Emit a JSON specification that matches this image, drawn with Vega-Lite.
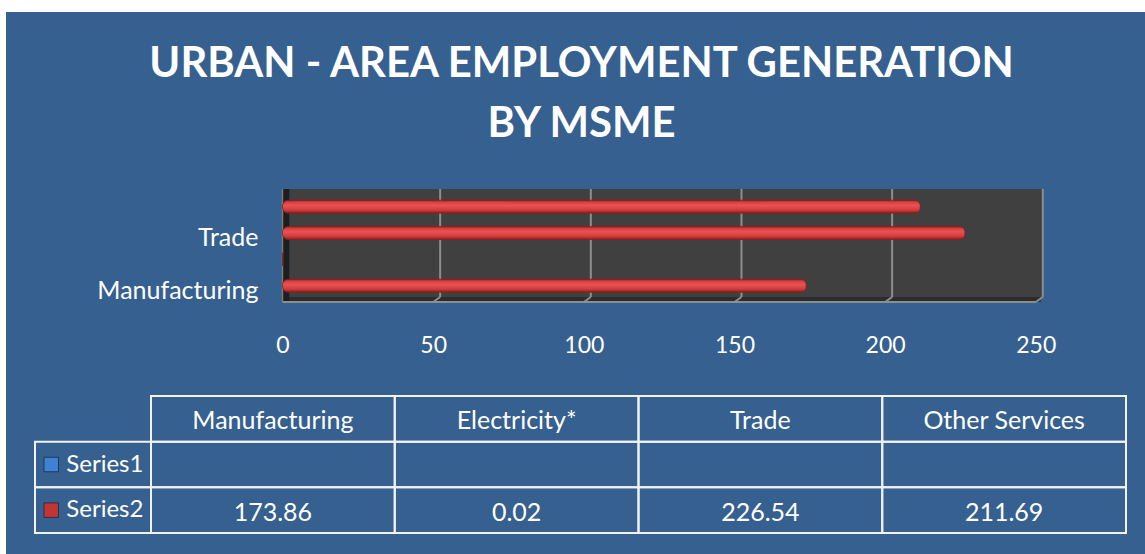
{
  "$schema": "https://vega.github.io/schema/vega-lite/v6.json",
  "width": 1139,
  "height": 542,
  "autosize": {"type": "none"},
  "padding": {"left": 6, "top": 12, "right": 0, "bottom": 0},
  "background": "#ffffff",
  "config": {"view": {"fill": "#36608f", "stroke": null}, "font": "Lato"},
  "title": {
    "text": ["URBAN - AREA EMPLOYMENT GENERATION", "BY MSME"],
    "font": "Lato",
    "fontSize": 41.8,
    "fontWeight": "bold",
    "color": "#ffffff",
    "lineHeight": 60,
    "anchor": "middle",
    "frame": "group",
    "dx": 6,
    "offset": -134
  },
  "datasets": {
    "emp": [
      {"category": "Manufacturing", "Series1": null, "Series2": 173.86},
      {"category": "Electricity*", "Series1": null, "Series2": 0.02},
      {"category": "Trade", "Series1": null, "Series2": 226.54},
      {"category": "Other Services", "Series1": null, "Series2": 211.69}
    ],
    "series": [{"series": "Series1"}, {"series": "Series2"}],
    "gridvals": [{"v": 50}, {"v": 100}, {"v": 150}, {"v": 200}],
    "one": [{}]
  },
  "resolve": {"scale": {"x": "independent", "y": "independent", "color": "independent"}},
  "layer": [
    {
      "data": {"name": "one"},
      "mark": {"type": "rect", "fill": "#2c2c2c", "x2Offset": 5},
      "encoding": {
        "x": {"datum": 0, "type": "quantitative", "scale": {"domain": [0, 250], "range": [276.5, 1029.8], "nice": false, "zero": false}, "axis": null},
        "x2": {"datum": 250},
        "y": {"datum": -0.046, "type": "quantitative", "scale": {"domain": [0, 1], "range": [285, 177], "nice": false, "zero": false}, "axis": null},
        "y2": {"datum": 0}
      }
    },
    {
      "data": {"name": "one"},
      "mark": {"type": "rect", "fill": "#404040", "xOffset": 7, "x2Offset": 7},
      "encoding": {
        "x": {"datum": 0, "type": "quantitative", "scale": {"domain": [0, 250], "range": [276.5, 1029.8], "nice": false, "zero": false}, "axis": null},
        "x2": {"datum": 250},
        "y": {"datum": 0, "type": "quantitative", "scale": {"domain": [0, 1], "range": [285, 177], "nice": false, "zero": false}, "axis": null},
        "y2": {"datum": 1}
      }
    },
    {
      "data": {"name": "one"},
      "mark": {"type": "rect", "fill": "#1e1e1e", "x2Offset": 7},
      "encoding": {
        "x": {"datum": 0, "type": "quantitative", "scale": {"domain": [0, 250], "range": [276.5, 1029.8], "nice": false, "zero": false}, "axis": null},
        "x2": {"datum": 0},
        "y": {"datum": -0.046, "type": "quantitative", "scale": {"domain": [0, 1], "range": [285, 177], "nice": false, "zero": false}, "axis": null},
        "y2": {"datum": 1}
      }
    },
    {
      "data": {"name": "gridvals"},
      "mark": {"type": "rule", "stroke": "#8e8e8e", "strokeWidth": 2, "xOffset": 7},
      "encoding": {
        "x": {"field": "v", "type": "quantitative", "scale": {"domain": [0, 250], "range": [276.5, 1029.8], "nice": false, "zero": false}, "axis": null},
        "y": {"datum": 0, "type": "quantitative", "scale": {"domain": [0, 1], "range": [285, 177], "nice": false, "zero": false}, "axis": null},
        "y2": {"datum": 1}
      }
    },
    {
      "data": {"name": "gridvals"},
      "mark": {"type": "rule", "stroke": "#8e8e8e", "strokeWidth": 2, "x2Offset": 7},
      "encoding": {
        "x": {"field": "v", "type": "quantitative", "scale": {"domain": [0, 250], "range": [276.5, 1029.8], "nice": false, "zero": false}, "axis": null},
        "x2": {"field": "v"},
        "y": {"datum": -0.046, "type": "quantitative", "scale": {"domain": [0, 1], "range": [285, 177], "nice": false, "zero": false}, "axis": null},
        "y2": {"datum": 0}
      }
    },
    {
      "data": {"name": "one"},
      "mark": {"type": "rule", "stroke": "#8e8e8e", "strokeWidth": 2},
      "encoding": {
        "x": {"datum": 0, "type": "quantitative", "scale": {"domain": [0, 250], "range": [276.5, 1029.8], "nice": false, "zero": false}, "axis": null},
        "x2": {"datum": 250},
        "y": {"datum": -0.046, "type": "quantitative", "scale": {"domain": [0, 1], "range": [285, 177], "nice": false, "zero": false}, "axis": null}
      }
    },
    {
      "data": {"name": "one"},
      "mark": {"type": "rule", "stroke": "#8e8e8e", "strokeWidth": 2, "x2Offset": 7},
      "encoding": {
        "x": {"datum": 250, "type": "quantitative", "scale": {"domain": [0, 250], "range": [276.5, 1029.8], "nice": false, "zero": false}, "axis": null},
        "x2": {"datum": 250},
        "y": {"datum": -0.046, "type": "quantitative", "scale": {"domain": [0, 1], "range": [285, 177], "nice": false, "zero": false}, "axis": null},
        "y2": {"datum": 0}
      }
    },
    {
      "data": {"name": "one"},
      "mark": {"type": "rule", "stroke": "#8e8e8e", "strokeWidth": 2, "xOffset": 7},
      "encoding": {
        "x": {"datum": 250, "type": "quantitative", "scale": {"domain": [0, 250], "range": [276.5, 1029.8], "nice": false, "zero": false}, "axis": null},
        "y": {"datum": 0, "type": "quantitative", "scale": {"domain": [0, 1], "range": [285, 177], "nice": false, "zero": false}, "axis": null},
        "y2": {"datum": 1}
      }
    },
    {
      "data": {"name": "one"},
      "mark": {"type": "rule", "stroke": "#7a7a7a", "strokeWidth": 1.5},
      "encoding": {
        "x": {"datum": 0, "type": "quantitative", "scale": {"domain": [0, 250], "range": [276.5, 1029.8], "nice": false, "zero": false}, "axis": null},
        "y": {"datum": -0.046, "type": "quantitative", "scale": {"domain": [0, 1], "range": [285, 177], "nice": false, "zero": false}, "axis": null},
        "y2": {"datum": 1}
      }
    },
    {
      "data": {"name": "emp"},
      "mark": {
        "type": "bar",
        "cornerRadius": 6,
        "stroke": "#8a1f1f",
        "strokeWidth": 0.8,
        "fill": {
          "gradient": "linear",
          "x1": 0, "y1": 0, "x2": 0, "y2": 1,
          "stops": [
            {"offset": 0, "color": "#9c2626"},
            {"offset": 0.18, "color": "#d94242"},
            {"offset": 0.4, "color": "#ea5252"},
            {"offset": 0.75, "color": "#d23c3c"},
            {"offset": 1, "color": "#8c1f1f"}
          ]
        }
      },
      "encoding": {
        "x": {
          "field": "Series2",
          "type": "quantitative",
          "scale": {"domain": [0, 250], "range": [276.5, 1029.8], "nice": false},
          "axis": {
            "orient": "bottom",
            "offset": -209,
            "ticks": false,
            "domain": false,
            "grid": false,
            "labelBaseline": "middle",
            "labelPadding": 0,
            "labelFont": "Lato",
            "labelFontSize": 23,
            "labelColor": "#ffffff",
            "values": [0, 50, 100, 150, 200, 250],
            "labelFlush": false,
            "labelOverlap": false,
            "title": null
          }
        },
        "y": {
          "field": "category",
          "type": "nominal",
          "scale": {
            "domain": ["Other Services", "Trade", "Electricity*", "Manufacturing"],
            "range": [181.5, 286.9],
            "paddingInner": 0.506,
            "paddingOuter": 0.253
          },
          "axis": {
            "orient": "left",
            "offset": -252,
            "ticks": false,
            "domain": false,
            "grid": false,
            "labelPadding": 0,
            "labelOffset": 5,
            "labelFont": "Lato",
            "labelFontSize": 25,
            "labelColor": "#ffffff",
            "labelAlign": "right",
            "labelBaseline": "middle",
            "values": ["Trade", "Manufacturing"],
            "title": null
          }
        }
      }
    },
    {
      "data": {"name": "emp"},
      "transform": [{"fold": ["category", "Series1", "Series2"], "as": ["row", "val"]}],
      "mark": {"type": "rect", "fill": "transparent", "stroke": "#f2f2f2", "strokeWidth": 2},
      "encoding": {
        "x": {"field": "category", "type": "nominal", "scale": {"domain": ["Manufacturing", "Electricity*", "Trade", "Other Services"], "range": [145, 1120], "paddingInner": 0, "paddingOuter": 0}, "axis": null},
        "y": {"field": "row", "type": "nominal", "scale": {"domain": ["category", "Series1", "Series2"], "range": [384, 521], "paddingInner": 0, "paddingOuter": 0}, "axis": null}
      }
    },
    {
      "data": {"name": "series"},
      "mark": {"type": "rect", "fill": "transparent", "stroke": "#f2f2f2", "strokeWidth": 2},
      "encoding": {
        "x": {"datum": 0, "type": "quantitative", "scale": {"domain": [0, 1], "range": [29, 145], "nice": false, "zero": false}, "axis": null},
        "x2": {"datum": 1},
        "y": {"field": "series", "type": "nominal", "scale": {"domain": ["category", "Series1", "Series2"], "range": [384, 521], "paddingInner": 0, "paddingOuter": 0}, "axis": null}
      }
    },
    {
      "data": {"name": "emp"},
      "transform": [{"fold": ["category"], "as": ["row", "val"]}],
      "mark": {"type": "text", "font": "Lato", "fontSize": 25, "color": "#ffffff", "align": "center", "baseline": "middle", "dy": 2},
      "encoding": {
        "x": {"field": "category", "type": "nominal", "scale": {"domain": ["Manufacturing", "Electricity*", "Trade", "Other Services"], "range": [145, 1120], "paddingInner": 0, "paddingOuter": 0}, "axis": null},
        "y": {"field": "row", "type": "nominal", "scale": {"domain": ["category", "Series1", "Series2"], "range": [384, 521], "paddingInner": 0, "paddingOuter": 0}, "axis": null},
        "text": {"field": "val"}
      }
    },
    {
      "data": {"name": "emp"},
      "transform": [
        {"fold": ["Series1", "Series2"], "as": ["row", "val"]},
        {"filter": "datum.val != null"}
      ],
      "mark": {"type": "text", "font": "Lato", "fontSize": 25, "color": "#ffffff", "align": "center", "baseline": "middle", "dy": 3},
      "encoding": {
        "x": {"field": "category", "type": "nominal", "scale": {"domain": ["Manufacturing", "Electricity*", "Trade", "Other Services"], "range": [145, 1120], "paddingInner": 0, "paddingOuter": 0}, "axis": null},
        "y": {"field": "row", "type": "nominal", "scale": {"domain": ["category", "Series1", "Series2"], "range": [384, 521], "paddingInner": 0, "paddingOuter": 0}, "axis": null},
        "text": {"field": "val", "type": "quantitative", "format": ".2f"}
      }
    },
    {
      "data": {"name": "series"},
      "mark": {"type": "text", "font": "Lato", "fontSize": 24, "color": "#ffffff", "align": "left", "baseline": "middle"},
      "encoding": {
        "x": {"datum": 0.27, "type": "quantitative", "scale": {"domain": [0, 1], "range": [29, 145], "nice": false, "zero": false}, "axis": null},
        "y": {"field": "series", "type": "nominal", "scale": {"domain": ["category", "Series1", "Series2"], "range": [384, 521], "paddingInner": 0, "paddingOuter": 0}, "axis": null},
        "text": {"field": "series"}
      }
    },
    {
      "data": {"name": "series"},
      "mark": {"type": "point", "shape": "square", "filled": true, "size": 210, "opacity": 1, "stroke": "#1a2a40", "strokeWidth": 0.8},
      "encoding": {
        "x": {"datum": 0.14, "type": "quantitative", "scale": {"domain": [0, 1], "range": [29, 145], "nice": false, "zero": false}, "axis": null},
        "y": {"field": "series", "type": "nominal", "scale": {"domain": ["category", "Series1", "Series2"], "range": [384, 521], "paddingInner": 0, "paddingOuter": 0}, "axis": null},
        "color": {"field": "series", "type": "nominal", "scale": {"domain": ["Series1", "Series2"], "range": ["#3f82d4", "#c33434"]}, "legend": null}
      }
    }
  ]
}
